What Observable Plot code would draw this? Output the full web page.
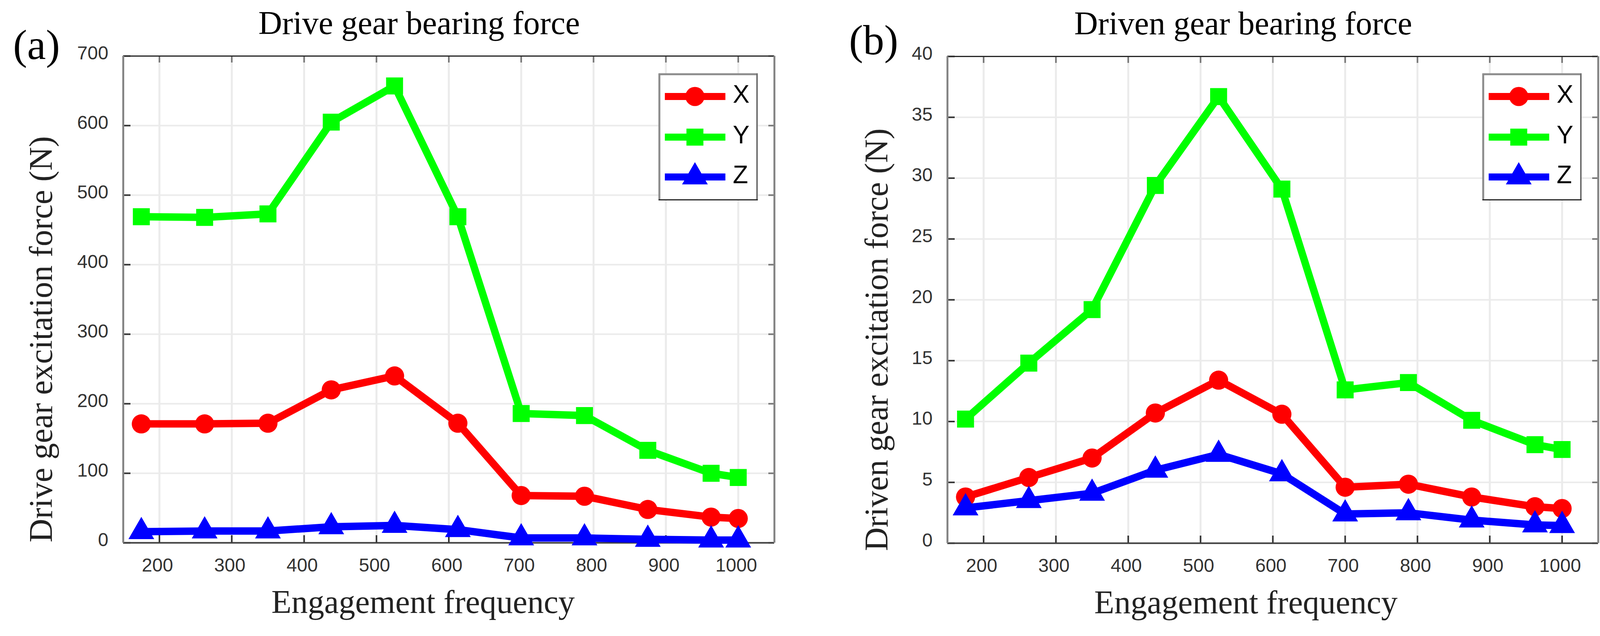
<!DOCTYPE html>
<html>
<head>
<meta charset="utf-8">
<script src="https://cdn.jsdelivr.net/npm/d3@7"></script>
<script src="https://cdn.jsdelivr.net/npm/@observablehq/plot@0.6"></script>
<style>
  html, body { margin: 0; padding: 0; background: #fff; }
  #root { position: relative; width: 4128px; height: 1628px; background: #fff; overflow: hidden; }
  .panel { position: absolute; top: 0; }
  .legend { position: absolute; }
</style>
</head>
<body>
<div id="root"></div>
<script>
// ---------------- data ----------------
const freq = [175, 262.5, 350, 437.5, 525, 612.5, 700, 787.5, 875, 962.5, 1000];

const driveX = [171, 171, 172, 220, 240, 172, 68, 67, 48, 37, 35];
const driveY = [469, 468, 473, 605, 657, 469, 186, 183, 133, 100, 94];
const driveZ = [16, 17, 17, 23, 25, 19, 7, 7, 5, 4, 4];

const drivenX = [3.8, 5.4, 7.0, 10.7, 13.4, 10.6, 4.6, 4.85, 3.8, 3.0, 2.85];
const drivenY = [10.2, 14.8, 19.2, 29.4, 36.7, 29.1, 12.6, 13.2, 10.1, 8.1, 7.7];
const drivenZ = [2.9, 3.5, 4.1, 6.0, 7.3, 5.7, 2.4, 2.5, 1.9, 1.5, 1.45];

const seriesNames = ["X", "Y", "Z"];
const seriesColors = ["#ff0000", "#00ff00", "#0000ff"];
const seriesSymbols = ["circle", "square", "triangle"];

const xTicks = [200, 300, 400, 500, 600, 700, 800, 900, 1000];
const xDomain = [150, 1050];
const driveYTicks = [0, 100, 200, 300, 400, 500, 600, 700];
const drivenYTicks = [0, 5, 10, 15, 20, 25, 30, 35, 40];

const titles = ["Drive gear bearing force", "Driven gear bearing force"];
const yLabels = ["Drive gear excitation force (N)", "Driven gear excitation force (N)"];
const xLabel = "Engagement frequency";
const panelTags = ["(a)", "(b)"];

// ---------------- style ----------------
const H = 1628;
const SANS = "'Liberation Sans', Arial, Helvetica, sans-serif";
const SERIF = "'Liberation Serif', 'Times New Roman', Times, serif";
const GRID = "#ebebeb";
const LINE_W = 19;
const DOT_R = 24.5;

function panel(cfg) {
  const fw = cfg.width - cfg.mL - cfg.mR;
  const fh = H - cfg.mT - cfg.mB;
  const yDomain = [cfg.yTicks[0], cfg.yTicks[cfg.yTicks.length - 1]];
  const seriesMarks = [];
  seriesNames.forEach((name, k) => {
    const rows = freq.map((f, i) => ({series: name, f, v: cfg.values[k][i]}));
    seriesMarks.push(Plot.line(rows, {
      x: "f", y: "v", stroke: seriesColors[k], strokeWidth: LINE_W,
      strokeLinejoin: "round", strokeLinecap: "butt"
    }));
    seriesMarks.push(Plot.dot(rows, {
      x: "f", y: "v", symbol: () => seriesSymbols[k], fill: seriesColors[k],
      stroke: "none", r: DOT_R
    }));
  });

  const plot = Plot.plot({
    width: cfg.width,
    height: H,
    marginLeft: cfg.mL,
    marginRight: cfg.mR,
    marginTop: cfg.mT,
    marginBottom: cfg.mB,
    style: {background: "transparent", fontFamily: SANS, fontSize: "48px", color: "#333", overflow: "visible"},
    x: {domain: xDomain, nice: false},
    y: {domain: yDomain, nice: false},
    symbol: {domain: seriesSymbols, range: seriesSymbols},
    marks: [
      Plot.gridX(xTicks, {stroke: GRID, strokeWidth: 5, strokeOpacity: 1}),
      Plot.gridY(cfg.yTicks, {stroke: GRID, strokeWidth: 4, strokeOpacity: 1}),
      // inner tick marks (MATLAB style)
      Plot.tickX(xTicks, {x: d => d, stroke: "#333", strokeWidth: 4, insetTop: fh - 19}),
      Plot.tickX(xTicks, {x: d => d, stroke: "#777", strokeWidth: 4, insetBottom: fh - 17}),
      Plot.tickY(cfg.yTicks, {y: d => d, stroke: "#333", strokeWidth: 4, insetRight: fw - 19}),
      Plot.tickY(cfg.yTicks, {y: d => d, stroke: "#777", strokeWidth: 4, insetLeft: fw - 15}),
      // box
      Plot.ruleY([yDomain[1]], {stroke: "#262626", strokeWidth: 3}),
      Plot.ruleY([yDomain[0]], {stroke: "#404040", strokeWidth: 4}),
      Plot.ruleX([xDomain[0]], {stroke: "#858585", strokeWidth: 5}),
      Plot.ruleX([xDomain[1]], {stroke: "#858585", strokeWidth: 5}),
      // tick labels
      Plot.axisX(xTicks, {anchor: "bottom", tickSize: 0, tickPadding: 39, dx: -5,
        tickFormat: d3.format("d"), fontSize: 48, label: null, color: "#333"}),
      Plot.axisY(cfg.yTicks, {anchor: "left", tickSize: 0, tickPadding: 38, dy: -7,
        tickFormat: d3.format("d"), fontSize: 48, label: null, color: "#333"}),
      // data
      ...seriesMarks,
      // texts
      Plot.text([cfg.title], {text: d => d, frameAnchor: "top", dx: -76, dy: -57,
        lineAnchor: "bottom", fontFamily: SERIF, fontSize: 84, fill: "#000"}),
      Plot.text([cfg.tag], {text: d => d, frameAnchor: "top-left", textAnchor: "start",
        dx: cfg.tagDx, dy: cfg.tagDy, lineAnchor: "bottom", fontFamily: SERIF, fontSize: 108, fill: "#000"}),
      Plot.text([xLabel], {text: d => d, frameAnchor: "bottom", dx: cfg.xlDx, dy: 179,
        lineAnchor: "bottom", fontFamily: SERIF, fontSize: 84, fill: "#222"}),
      Plot.text([cfg.yLabel], {text: d => d, frameAnchor: "left", rotate: -90, textAnchor: "middle",
        dx: cfg.ylDx, dy: 102, lineAnchor: "bottom", fontFamily: SERIF, fontSize: 84, fill: "#222"})
    ]
  });
  plot.classList.add("panel");
  plot.style.left = cfg.left + "px";
  return plot;
}

function legend(left, top) {
  const w = 254, h = 325;
  const div = document.createElement("div");
  div.className = "legend";
  div.style.left = left + "px";
  div.style.top = top + "px";
  const svg = d3.select(div).append("svg").attr("width", w).attr("height", h)
    .style("overflow", "visible");
  svg.append("rect").attr("x", 0).attr("y", 0).attr("width", w).attr("height", h).attr("fill", "#fff");
  svg.append("line").attr("x1", 0).attr("x2", w).attr("y1", 2).attr("y2", 2).attr("stroke", "#8c8c8c").attr("stroke-width", 5);
  svg.append("line").attr("x1", 2).attr("x2", 2).attr("y1", 0).attr("y2", h).attr("stroke", "#8c8c8c").attr("stroke-width", 5);
  svg.append("line").attr("x1", w - 2).attr("x2", w - 2).attr("y1", 0).attr("y2", h).attr("stroke", "#707070").attr("stroke-width", 4);
  svg.append("line").attr("x1", 0).attr("x2", w).attr("y1", h - 1.5).attr("y2", h - 1.5).attr("stroke", "#262626").attr("stroke-width", 3);
  const rowY = [59, 163, 265];
  const symMap = {circle: d3.symbolCircle, square: d3.symbolSquare, triangle: d3.symbolTriangle};
  seriesNames.forEach((name, k) => {
    const y = rowY[k];
    svg.append("line").attr("x1", 16).attr("x2", 171).attr("y1", y).attr("y2", y)
      .attr("stroke", seriesColors[k]).attr("stroke-width", 18);
    if (seriesSymbols[k] === "circle") {
      svg.append("circle").attr("cx", 93).attr("cy", y).attr("r", DOT_R).attr("fill", seriesColors[k]);
    } else {
      svg.append("path").attr("transform", `translate(93,${y})`)
        .attr("d", d3.symbol(symMap[seriesSymbols[k]], DOT_R * DOT_R * Math.PI)())
        .attr("fill", seriesColors[k]);
    }
    svg.append("text").attr("x", 190).attr("y", y + 16).text(name)
      .attr("font-family", SANS).attr("font-size", 64).attr("fill", "#000");
  });
  return div;
}

const root = document.getElementById("root");
root.appendChild(panel({
  left: 0, width: 2064, mL: 315, mR: 82, mT: 143, mB: 239,
  yTicks: driveYTicks, values: [driveX, driveY, driveZ],
  title: titles[0], yLabel: yLabels[0], tag: panelTags[0],
  tagDx: -282, tagDy: 7, xlDx: -66, ylDx: -183
}));
root.appendChild(panel({
  left: 2064, width: 2064, mL: 361, mR: 37, mT: 144, mB: 238,
  yTicks: drivenYTicks, values: [drivenX, drivenY, drivenZ],
  title: titles[1], yLabel: yLabels[1], tag: panelTags[1],
  tagDx: -252, tagDy: -6, xlDx: -69, ylDx: -154
}));
root.appendChild(legend(1686, 188));
root.appendChild(legend(3795, 188));
</script>
</body>
</html>
